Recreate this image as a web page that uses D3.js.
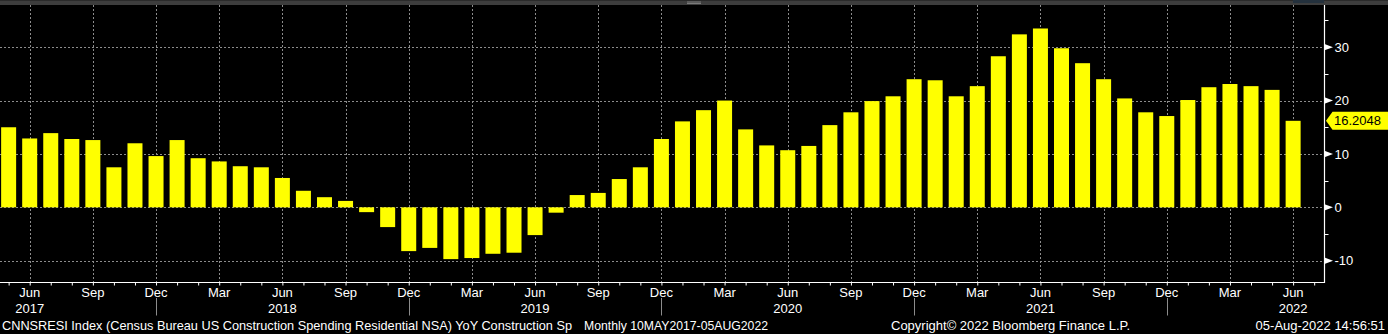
<!DOCTYPE html>
<html>
<head>
<meta charset="utf-8">
<script src="https://cdn.jsdelivr.net/npm/d3@7"></script>
<style>
  html, body { margin: 0; padding: 0; background: #000; }
  svg { display: block; }
  text { font-family: "Liberation Sans", Arial, sans-serif; }
</style>
</head>
<body>
<svg id="chart" width="1388" height="334"></svg>
<script>
// Monthly series: CNNSRESI YoY %, May 2017 .. Jun 2022
const firstMonth = new Date(2017, 4, 1);
const values = [
  15.0, 12.9, 13.9, 12.8, 12.6, 7.5, 12.0, 9.6,                 // 2017 May-Dec
  12.6, 9.2, 8.6, 7.7, 7.5, 5.5, 3.1, 1.9, 1.2, -0.9, -3.7, -8.2, // 2018
  -7.6, -9.7, -9.5, -8.7, -8.5, -5.2, -1.0, 2.3, 2.7, 5.3, 7.5, 12.8, // 2019
  16.1, 18.2, 20.0, 14.6, 11.6, 10.7, 11.5, 15.4, 17.8, 19.9, 20.8, 24.0, // 2020
  23.8, 20.8, 22.7, 28.3, 32.4, 33.5, 29.8, 27.0, 24.0, 20.4, 17.8, 17.1, // 2021
  20.1, 22.5, 23.1, 22.7, 22.0, 16.2048                          // 2022 Jan-Jun
];
const lastValueLabel = "16.2048";
const monthNames = ["Jan","Feb","Mar","Apr","May","Jun","Jul","Aug","Sep","Oct","Nov","Dec"];
const yTicks = [-10, 0, 10, 20, 30];
const yMinorTicks = [-5, 5, 15, 25, 35];
const years = [2017, 2018, 2019, 2020, 2021, 2022];
const footerLeft = "CNNSRESI Index (Census Bureau US Construction Spending Residential NSA) YoY Construction Sp";
const footerRange = "Monthly 10MAY2017-05AUG2022";
const footerCopy = "Copyright\u00A9 2022 Bloomberg Finance L.P.";
const footerStamp = "05-Aug-2022 14:56:51";

const months = values.map((v, i) => d3.timeMonth.offset(firstMonth, i));
const tickIdx = d3.range(0, values.length + 1);

const svg = d3.select("#chart");
const W = 1388, H = 334;
const plot = { left: 0, right: 1324.5, top: 5, bottom: 282.5 };

const x = d3.scaleLinear().domain([-0.41, 62.49]).range([plot.left, plot.right]);
const y = d3.scaleLinear().domain([-14.08, 37.9]).range([plot.bottom, plot.top]);

svg.append("rect").attr("width", W).attr("height", H).attr("fill", "#000");

// title strip along the top
svg.append("rect").attr("x", 0).attr("y", 0).attr("width", W).attr("height", 5).attr("fill", "#3d3d3d");
svg.append("rect").attr("x", 0).attr("y", 0).attr("width", W).attr("height", 1).attr("fill", "#2a2a2a");
svg.append("rect").attr("x", 1293).attr("y", 0).attr("width", 31).attr("height", 3).attr("fill", "#24313d");
[2, 3.5].forEach(gy => svg.append("line")
  .attr("x1", 687).attr("x2", 701).attr("y1", gy).attr("y2", gy)
  .attr("stroke", "#8a8a8a").attr("stroke-width", 0.8));

const monthOf = i => i < months.length
  ? months[i].getMonth()
  : (months[months.length - 1].getMonth() + i - months.length + 1) % 12;
const quarterIdx = tickIdx.filter(i => i < values.length && [2, 5, 8, 11].includes(monthOf(i)));

// grid
const grid = svg.append("g").attr("stroke", "#8c8c8c").attr("stroke-width", 1).attr("stroke-dasharray", "2,2");
grid.selectAll("line.v").data(quarterIdx).join("line")
  .attr("x1", d => Math.round(x(d)) + 0.5).attr("x2", d => Math.round(x(d)) + 0.5)
  .attr("y1", plot.top).attr("y2", plot.bottom);
grid.selectAll("line.h").data(yTicks).join("line")
  .attr("x1", plot.left).attr("x2", plot.right)
  .attr("y1", d => Math.round(y(d)) + 0.5).attr("y2", d => Math.round(y(d)) + 0.5);

// bars
const barW = 15;
svg.append("defs").append("clipPath").attr("id", "plotclip")
  .append("rect").attr("x", plot.left).attr("y", plot.top)
  .attr("width", plot.right - plot.left).attr("height", plot.bottom - plot.top);
svg.append("g").attr("clip-path", "url(#plotclip)")
  .selectAll("rect").data(values).join("rect")
  .attr("x", (d, i) => x(i) - barW / 2)
  .attr("width", barW)
  .attr("y", d => y(Math.max(0, d)))
  .attr("height", d => Math.abs(y(d) - y(0)))
  .attr("fill", "#ffff00");

// bottom axis
const xAxis = d3.axisBottom(x).tickValues(tickIdx).tickSize(3).tickFormat(() => "");
const gx = svg.append("g").attr("transform", `translate(0,${plot.bottom})`).call(xAxis);
gx.select(".domain").remove();
gx.selectAll(".tick line").attr("stroke", "#fff");
svg.append("line").attr("x1", 0).attr("x2", plot.right + 0.5)
  .attr("y1", plot.bottom).attr("y2", plot.bottom).attr("stroke", "#fff").attr("stroke-width", 1.2);

svg.append("g").selectAll("text").data(quarterIdx).join("text")
  .attr("x", d => x(d)).attr("y", 297)
  .attr("text-anchor", "middle").attr("fill", "#fff").attr("font-size", 13)
  .text(d => monthNames[monthOf(d)]);

// year row
const decIdx = quarterIdx.filter(i => monthOf(i) === 11);
svg.append("g").selectAll("line").data(decIdx).join("line")
  .attr("x1", d => Math.round(x(d)) + 0.5).attr("x2", d => Math.round(x(d)) + 0.5)
  .attr("y1", 298).attr("y2", 315.5).attr("stroke", "#8c8c8c").attr("stroke-width", 1);
const yearPos = yr => {
  const idx = months.findIndex(m => m.getFullYear() === yr && m.getMonth() === 5);
  if (idx >= 0) return x(idx);
  const dec = months.findIndex(m => m.getFullYear() === yr && m.getMonth() === 11);
  return (plot.left + x(dec)) / 2;
};
svg.append("g").selectAll("text").data(years).join("text")
  .attr("x", d => yearPos(d)).attr("y", 312.5)
  .attr("text-anchor", "middle").attr("fill", "#fff").attr("font-size", 13)
  .text(d => d);

// right axis
svg.append("line").attr("x1", plot.right).attr("x2", plot.right)
  .attr("y1", plot.top).attr("y2", plot.bottom + 0.6).attr("stroke", "#fff").attr("stroke-width", 1.2);
const gy = svg.append("g");
gy.selectAll("path").data(yTicks).join("path")
  .attr("d", d => { const ty = y(d); return `M${plot.right},${ty - 3.2} L${plot.right + 8.5},${ty} L${plot.right},${ty + 3.2} Z`; })
  .attr("fill", "#fff");
gy.selectAll("line").data(yMinorTicks).join("line")
  .attr("x1", plot.right).attr("x2", plot.right + 4)
  .attr("y1", d => Math.round(y(d)) + 0.5).attr("y2", d => Math.round(y(d)) + 0.5)
  .attr("stroke", "#fff");
gy.selectAll("text").data(yTicks).join("text")
  .attr("x", plot.right + 10).attr("y", d => y(d) + 4.6)
  .attr("fill", "#fff").attr("font-size", 13)
  .text(d => d < 0 ? "-" + Math.abs(d) : String(d));

// last value tag
const lv = values[values.length - 1];
const ly = y(lv);
svg.append("path")
  .attr("d", `M${plot.right + 1.5},${ly} L${plot.right + 8},${ly - 9} L${W},${ly - 9} L${W},${ly + 9} L${plot.right + 8},${ly + 9} Z`)
  .attr("fill", "#ffff00");
svg.append("text").attr("x", plot.right + 9.5).attr("y", ly + 4.6)
  .attr("fill", "#000").attr("font-size", 13).text(lastValueLabel);

// footer
const foot = svg.append("g").attr("fill", "#fff").attr("font-size", 13);
foot.append("text").attr("x", 2).attr("y", 329.5)
  .attr("textLength", 570).attr("lengthAdjust", "spacingAndGlyphs").text(footerLeft);
foot.append("text").attr("x", 584).attr("y", 329.5)
  .attr("textLength", 184).attr("lengthAdjust", "spacingAndGlyphs").text(footerRange);
foot.append("text").attr("x", 891).attr("y", 329.5).text(footerCopy);
foot.append("text").attr("x", 1385).attr("y", 329.5).attr("text-anchor", "end").text(footerStamp);
</script>
</body>
</html>
